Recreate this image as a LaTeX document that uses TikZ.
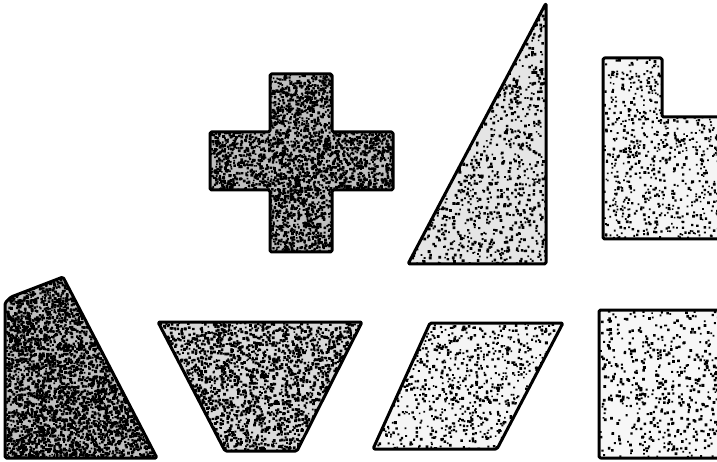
\documentclass[tikz,border=0pt]{standalone}
\newcommand\mystip[7]{%
  \begin{scope}
    \clip #1;
    \fill[#7] #1;
    \foreach \i in {1,...,#6}{%
      \pgfmathsetmacro\rr{1.5+rnd*1.4}%
      \fill[black] foreach \j in {1,...,40}{ ({#2+rnd*#4},{#3+rnd*#5}) rectangle ++(\rr,\rr) };
    }
  \end{scope}
  \draw[shp] #1;
}
\begin{document}
\begin{tikzpicture}[x=1pt,y=-1pt,
  shp/.style={draw=black,line width=3pt,line join=round,rounded corners=1.5pt}]
\useasboundingbox (0,0) rectangle (717,462);
\clip (0,0) rectangle (717,462);
\fill[white] (0,0) rectangle (717,462);
\pgfmathsetseed{12345}
% cross
\mystip{(270,74) -- (332,74) -- (332,132) -- (393,132) -- (393,190) -- (332,190) -- (332,252) -- (270,252) -- (270,190) -- (210,190) -- (210,132) -- (270,132) -- cycle}{210}{74}{183}{178}{120}{black!25}
% triangle
\mystip{(408,264) -- (546,3) -- (546,264) -- cycle}{408}{3}{138}{261}{38}{black!10}
% L shape
\mystip{(603,58) -- (662,58) -- (662,117) -- (730,117) -- (730,239) -- (603,239) -- cycle}{603}{58}{127}{181}{22}{black!4}
% pentagon
\mystip{(5,458) -- (5,303) -- (11,297) -- (63,277) -- (157,458) -- cycle}{5}{277}{152}{181}{110}{black!25}
% trapezoid
\mystip{(158,322) -- (362,322) -- (297,451) -- (225,451) -- cycle}{158}{322}{204}{129}{65}{black!15}
% parallelogram
\mystip{(430,323) -- (563,323) -- (497,449) -- (373,449) -- cycle}{373}{323}{190}{126}{25}{black!4}
% square
\mystip{(599,310) -- (730,310) -- (730,458) -- (599,458) -- cycle}{599}{310}{131}{148}{14}{black!3}
\end{tikzpicture}
\end{document}
